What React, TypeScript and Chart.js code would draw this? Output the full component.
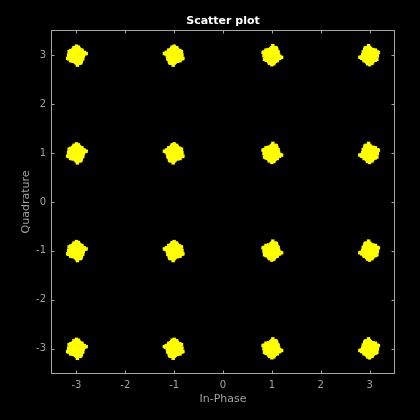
import React, { useEffect, useRef } from "react";
import { Chart, registerables } from "chart.js";

Chart.register(...registerables);

const TITLE = "Scatter plot";
const X_LABEL = "In-Phase";
const Y_LABEL = "Quadrature";
const LEVELS = [-3, -1, 1, 3];
const TICKS = [-3, -2, -1, 0, 1, 2, 3];

const OFFSET_X = [0.02, -0.05, 0.08, -0.11, 0.13, 0.0, -0.02, 0.05, -0.08, 0.1, -0.14, 0.04, 0.07, -0.03, 0.11, -0.09,
  0.01, -0.06, 0.15, -0.12, 0.03, -0.01, 0.09, -0.07, 0.06, -0.04, 0.12, -0.1, 0.0, 0.05, -0.13, 0.08,
  -0.02, 0.14, -0.05, 0.02, -0.09, 0.1, -0.16, 0.04, 0.07, -0.11, 0.01, -0.03, 0.17, -0.06, 0.09, -0.08,
  0.03, 0.11, -0.01, -0.12, 0.06, -0.04, 0.13, 0.0, -0.07, 0.05, 0.2, -0.18, 0.02, -0.15, 0.08, -0.02,
  0.06, -0.06, 0.06, -0.06, 0.1, -0.1, 0.1, -0.1, 0.04, -0.04, 0.04, -0.04, 0.09, -0.09, 0.09, -0.08,
  0.12, -0.12, 0.11, -0.13, 0.07, -0.06, 0.05, -0.07, 0.03, -0.03, 0.02, -0.04, 0.14, -0.15, 0.0, 0.01,
  0.11, -0.11, 0.1, -0.12, 0.16, -0.05, 0.07, -0.16];
const OFFSET_Y = [-0.03, 0.07, 0.01, -0.09, 0.04, 0.12, -0.14, -0.06, 0.1, 0.02, -0.01, -0.11, 0.08, 0.15, -0.05, 0.03,
  -0.08, -0.02, 0.06, 0.09, 0.13, -0.12, -0.04, 0.0, 0.11, -0.07, 0.02, 0.05, -0.16, 0.14, -0.03, -0.1,
  0.04, -0.01, 0.08, -0.13, 0.06, -0.08, 0.01, 0.17, -0.05, -0.04, 0.1, -0.09, 0.03, 0.12, -0.15, 0.07,
  -0.06, 0.09, 0.0, 0.05, -0.11, -0.02, -0.07, 0.19, 0.11, 0.13, 0.04, -0.06, -0.2, 0.08, -0.12, 0.02,
  0.06, 0.06, -0.06, -0.06, 0.04, 0.04, -0.04, -0.04, 0.1, 0.1, -0.1, -0.1, 0.09, 0.09, -0.08, -0.09,
  0.07, 0.06, -0.08, -0.05, 0.12, 0.13, -0.13, -0.12, 0.03, 0.04, -0.05, -0.02, 0.02, 0.0, 0.14, -0.15,
  0.11, 0.1, -0.12, -0.11, 0.06, 0.16, -0.16, -0.07];

const AXIS_COLOR = "#a6a6a6";
const TEXT_COLOR = "#a0a0a0";
const FONT = "'DejaVu Sans', sans-serif";

function buildPoints() {
  const pts: { x: number; y: number }[] = [];
  let k = 0;
  for (const cy of LEVELS) {
    for (const cx of LEVELS) {
      const sx = k % 2 ? -1 : 1;
      const sy = Math.floor(k / 2) % 2 ? -1 : 1;
      for (let i = 0; i < OFFSET_X.length; i++) {
        pts.push({ x: cx + sx * OFFSET_X[i], y: cy + sy * OFFSET_Y[i] });
      }
      k++;
    }
  }
  return pts;
}

const framePlugin = {
  id: "frame",
  afterDraw(chart: any) {
    const { ctx, chartArea: a, scales } = chart;
    ctx.save();
    ctx.strokeStyle = AXIS_COLOR;
    ctx.lineWidth = 1;
    const L = Math.round(a.left) - 0.5, R = Math.round(a.right) + 0.5;
    const T = Math.round(a.top) - 0.5, B = Math.round(a.bottom) + 0.5;
    ctx.strokeRect(L, T, R - L, B - T);
    const tl = 3;
    ctx.beginPath();
    for (const v of TICKS) {
      const px = Math.round(scales.x.getPixelForValue(v)) + 0.5;
      ctx.moveTo(px, B); ctx.lineTo(px, B - tl);
      ctx.moveTo(px, T); ctx.lineTo(px, T + tl);
      const py = Math.round(scales.y.getPixelForValue(v)) + 0.5;
      ctx.moveTo(L, py); ctx.lineTo(L + tl, py);
      ctx.moveTo(R, py); ctx.lineTo(R - tl, py);
    }
    ctx.stroke();
    ctx.textAlign = "center";
    ctx.textBaseline = "middle";
    ctx.fillStyle = "#ffffff";
    ctx.font = "bold 11px " + FONT;
    ctx.fillText(TITLE, (a.left + a.right) / 2, 21);
    ctx.fillStyle = TEXT_COLOR;
    ctx.font = "11px " + FONT;
    ctx.fillText(X_LABEL, (a.left + a.right) / 2, 399);
    ctx.translate(26, (a.top + a.bottom) / 2);
    ctx.rotate(-Math.PI / 2);
    ctx.fillText(Y_LABEL, 0, 0);
    ctx.restore();
  },
};

const bgPlugin = {
  id: "bg",
  beforeDraw(chart: any) {
    const { ctx, width, height } = chart;
    ctx.save();
    ctx.fillStyle = "#000000";
    ctx.fillRect(0, 0, width, height);
    ctx.restore();
  },
};

export default function App() {
  const ref = useRef<HTMLCanvasElement>(null);
  useEffect(() => {
    document.body.style.margin = "0";
    document.body.style.background = "#000";
    const chart = new Chart(ref.current!, {
      type: "scatter",
      data: {
        datasets: [
          {
            data: buildPoints(),
            backgroundColor: "#ffff00",
            borderWidth: 0,
            pointStyle: "rect",
            pointRadius: 2.4,
          },
        ],
      },
      options: {
        responsive: false,
        animation: false,
        layout: { padding: { top: 31, right: 26, left: 0, bottom: 0 } },
        plugins: { legend: { display: false }, tooltip: { enabled: false }, title: { display: false } },
        scales: {
          x: {
            type: "linear",
            min: -3.5,
            max: 3.5,
            afterBuildTicks: (s: any) => { s.ticks = TICKS.map((v) => ({ value: v })); },
            afterFit: (s: any) => { s.height = 47; },
            ticks: { color: TEXT_COLOR, font: { family: FONT, size: 10 }, padding: 6, maxRotation: 0 },
            grid: { display: false, drawTicks: false },
            border: { display: false },
          },
          y: {
            type: "linear",
            min: -3.5,
            max: 3.5,
            afterBuildTicks: (s: any) => { s.ticks = TICKS.map((v) => ({ value: v })); },
            afterFit: (s: any) => { s.width = 52; },
            ticks: { color: TEXT_COLOR, font: { family: FONT, size: 10 }, padding: 6 },
            grid: { display: false, drawTicks: false },
            border: { display: false },
          },
        },
      },
      plugins: [bgPlugin, framePlugin],
    });
    return () => chart.destroy();
  }, []);
  return <canvas ref={ref} width={420} height={420} style={{ display: "block" }} />;
}
